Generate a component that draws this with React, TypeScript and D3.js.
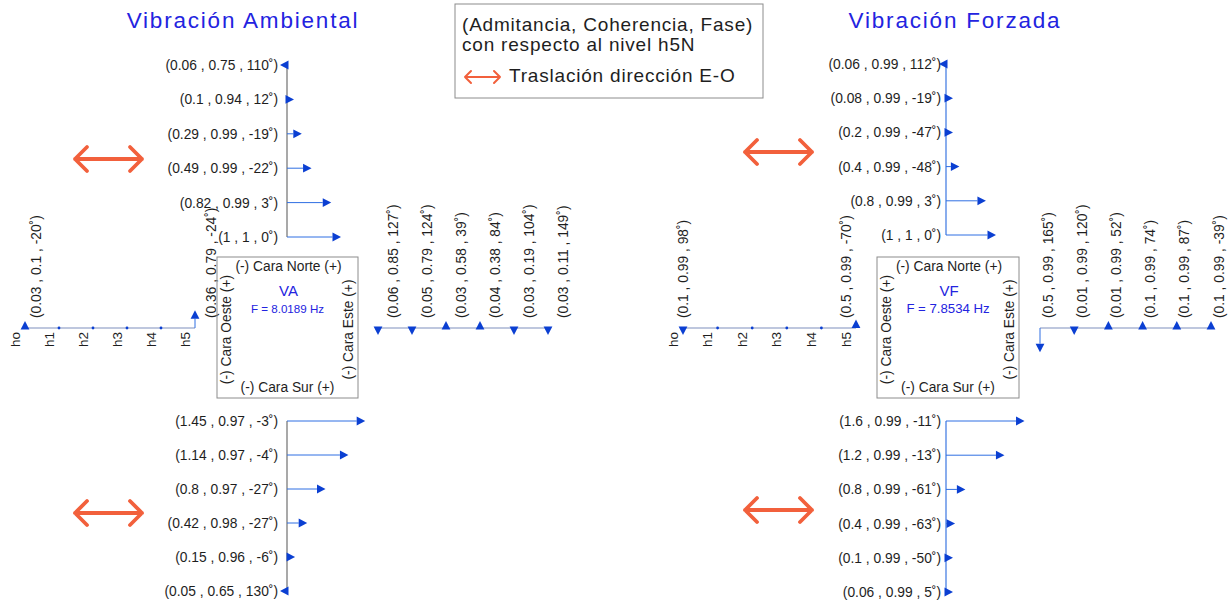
import React from "react";
import * as d3 from "d3";

// niveles, de la base (h0) al nivel de referencia (h5)
const niveles = ["h0", "h1", "h2", "h3", "h4", "h5"];
const nivelTicks = ["ho", "h1", "h2", "h3", "h4", "h5"];

// Vibración Ambiental (orden h0 .. h5)
const vaNorteAdm = [0.06, 0.1, 0.29, 0.49, 0.82, 1];
const vaNorteCoh = [0.75, 0.94, 0.99, 0.99, 0.99, 1];
const vaNorteFase = [110, 12, -19, -22, 3, 0];
const vaSurAdm = [0.05, 0.15, 0.42, 0.8, 1.14, 1.45];
const vaSurCoh = [0.65, 0.96, 0.98, 0.97, 0.97, 0.97];
const vaSurFase = [130, -6, -27, -27, -4, -3];
const vaEsteAdm = [0.03, 0.03, 0.04, 0.03, 0.05, 0.06];
const vaEsteCoh = [0.11, 0.19, 0.38, 0.58, 0.79, 0.85];
const vaEsteFase = [149, 104, 84, 39, 124, 127];
const vaOesteAdm = [0.03, null, null, null, null, 0.36];
const vaOesteCoh = [0.1, null, null, null, null, 0.79];
const vaOesteFase = [-20, null, null, null, null, -24];

// Vibración Forzada (orden h0 .. h5)
const vfNorteAdm = [0.06, 0.08, 0.2, 0.4, 0.8, 1];
const vfNorteCoh = [0.99, 0.99, 0.99, 0.99, 0.99, 1];
const vfNorteFase = [112, -19, -47, -48, 3, 0];
const vfSurAdm = [0.06, 0.1, 0.4, 0.8, 1.2, 1.6];
const vfSurCoh = [0.99, 0.99, 0.99, 0.99, 0.99, 0.99];
const vfSurFase = [5, -50, -63, -61, -13, -11];
const vfEsteAdm = [0.1, 0.1, 0.1, 0.01, 0.01, 0.5];
const vfEsteCoh = [0.99, 0.99, 0.99, 0.99, 0.99, 0.99];
const vfEsteFase = [-39, 87, 74, 52, 120, 165];
const vfOesteAdm = [0.1, null, null, null, null, 0.5];
const vfOesteCoh = [0.99, null, null, null, null, 0.99];
const vfOesteFase = [98, null, null, null, null, -70];

const font = "'Liberation Sans', Arial, Helvetica, sans-serif";
const lineBlue = "#2f6fe3";
const headBlue = "#0b3fd2";
const textBlue = "#2323e0";
const orange = "#f2603c";

const fmt = (a, c, f) => `(${a} , ${c} , ${f}˚)`;
const proj = (a, f) => a * Math.cos((f * Math.PI) / 180);

const panels = [
  {
    title: "Vibración Ambiental", titleX: 243, code: "VA", freq: "F = 8.0189 Hz", freqSize: 11.6,
    vx: 287, hy: 328, north: [65, 237], south: [591, 421], west: [25, 195], east: [548, 378],
    box: [217, 257, 358, 398], k: 54, labelEnd: 278, vLine: "#a9a9a9", vLineW: 2,
    westDx: [11, 16], eastDx: 15, orangeX: [75, 142], orangeY: [159, 513],
    norte: [vaNorteAdm, vaNorteCoh, vaNorteFase], sur: [vaSurAdm, vaSurCoh, vaSurFase],
    este: [vaEsteAdm, vaEsteCoh, vaEsteFase], oeste: [vaOesteAdm, vaOesteCoh, vaOesteFase],
  },
  {
    title: "Vibración Forzada", titleX: 955, code: "VF", freq: "F = 7.8534 Hz", freqSize: 13.2,
    vx: 946, hy: 328, north: [64, 235], south: [592, 421], west: [683, 856], east: [1211, 1040],
    box: [877, 257, 1019, 398], k: 50, labelEnd: 941, vLine: "#4a80e4", vLineW: 1.3,
    westDx: [0, -10], eastDx: 8, orangeX: [745, 812], orangeY: [152, 510],
    norte: [vfNorteAdm, vfNorteCoh, vfNorteFase], sur: [vfSurAdm, vfSurCoh, vfSurFase],
    este: [vfEsteAdm, vfEsteCoh, vfEsteFase], oeste: [vfOesteAdm, vfOesteCoh, vfOesteFase],
  },
];

const Flecha = ({ x, y, v, s, horiz }) => {
  const head = 8.5;
  const hw = 4.4;
  const dir = v >= 0 ? 1 : -1;
  const len = Math.max(s(Math.abs(v)), head - 1.5);
  if (horiz) {
    const tx = x + dir * len;
    const bx = tx - dir * head;
    return (
      <g>
        {len > head && <line x1={x} x2={bx} y1={y} y2={y} stroke={lineBlue} strokeWidth={1} />}
        <path d={`M${tx},${y}L${bx},${y - hw}L${bx},${y + hw}Z`} fill={headBlue} />
      </g>
    );
  }
  const ty = y - dir * len;
  const by = ty + dir * head;
  return (
    <g>
      {len > head && <line x1={x} x2={x} y1={y} y2={by} stroke={lineBlue} strokeWidth={1} />}
      <path d={`M${x},${ty}L${x - hw},${by}L${x + hw},${by}Z`} fill={headBlue} />
    </g>
  );
};

const Doble = ({ x0, x1, y, w, a }) => (
  <path
    d={`M${x0},${y}L${x1},${y}M${x0 + a},${y - a}L${x0},${y}L${x0 + a},${y + a}M${x1 - a},${y - a}L${x1},${y}L${x1 - a},${y + a}`}
    fill="none" stroke={orange} strokeWidth={w} strokeLinecap="round" strokeLinejoin="round"
  />
);

const Panel = ({ p }) => {
  const s = d3.scaleLinear().domain([0, 1]).range([0, p.k]);
  const yN = d3.scalePoint().domain(niveles).range(p.north);
  const yS = d3.scalePoint().domain(niveles).range(p.south);
  const xW = d3.scalePoint().domain(niveles).range(p.west);
  const xE = d3.scalePoint().domain(niveles).range(p.east);
  const [bx0, by0, bx1, by1] = p.box;
  const bcx = (bx0 + bx1) / 2;
  const tStyle = { fontFamily: font, fontSize: 13.8, fill: "#1e1e1e" };

  const cara = (scale, data) =>
    niveles.map((n, i) => {
      const [adm, coh, fase] = data.map((d) => d[i]);
      const y = scale(n);
      return (
        <g key={n}>
          <Flecha x={p.vx} y={y} v={proj(adm, fase)} s={s} horiz />
          <text x={p.labelEnd} y={y + 5} textAnchor="end" style={tStyle}>{fmt(adm, coh, fase)}</text>
        </g>
      );
    });

  return (
    <g>
      <text x={p.titleX} y={28} textAnchor="middle" fill={textBlue} fontFamily={font} fontSize={22.5} letterSpacing={1.8}>
        {p.title}
      </text>

      {/* Norte / Sur */}
      <line x1={p.vx} x2={p.vx} y1={p.north[0]} y2={p.north[1]} stroke={p.vLine} strokeWidth={p.vLineW} />
      <line x1={p.vx} x2={p.vx} y1={p.south[1]} y2={p.south[0]} stroke={p.vLine} strokeWidth={p.vLineW} />
      {cara(yN, p.norte)}
      {cara(yS, p.sur)}

      {/* Oeste */}
      <line x1={p.west[0]} x2={p.west[1]} y1={p.hy} y2={p.hy} stroke="#a9b5d3" strokeWidth={1.5} />
      {niveles.map((n, i) => {
        const x = xW(n);
        const adm = p.oeste[0][i];
        return (
          <g key={n}>
            <text transform={`translate(${x - 10},${p.hy + 4}) rotate(-90)`} textAnchor="end" dominantBaseline="central"
              style={{ ...tStyle, fontSize: 13.5 }}>{nivelTicks[i]}</text>
            {adm == null ? (
              <circle cx={x} cy={p.hy} r={1.4} fill={headBlue} />
            ) : (
              <g>
                <Flecha x={x} y={p.hy} v={proj(adm, p.oeste[2][i])} s={s} />
                <text transform={`translate(${x + p.westDx[i === 0 ? 0 : 1]},${p.hy - 10}) rotate(-90)`}
                  dominantBaseline="central" style={tStyle}>{fmt(adm, p.oeste[1][i], p.oeste[2][i])}</text>
              </g>
            )}
          </g>
        );
      })}

      {/* Este */}
      <line x1={p.east[1]} x2={p.east[0]} y1={p.hy} y2={p.hy} stroke="#a9b5d3" strokeWidth={1.5} />
      {niveles.map((n, i) => {
        const x = xE(n);
        const [adm, coh, fase] = p.este.map((d) => d[i]);
        return (
          <g key={n}>
            <Flecha x={x} y={p.hy} v={proj(adm, fase)} s={s} />
            <text transform={`translate(${x + p.eastDx},${p.hy - 10}) rotate(-90)`} dominantBaseline="central"
              style={tStyle}>{fmt(adm, coh, fase)}</text>
          </g>
        );
      })}

      {/* planta */}
      <rect x={bx0} y={by0} width={bx1 - bx0} height={by1 - by0} fill="none" stroke="#8c8c8c" strokeWidth={1} />
      <text x={bcx + 1} y={by0 + 14} textAnchor="middle" style={{ ...tStyle, fontSize: 13.8 }}>(-) Cara Norte (+)</text>
      <text x={bcx} y={by1 - 6} textAnchor="middle" style={{ ...tStyle, fontSize: 13.8 }}>(-) Cara Sur (+)</text>
      <text transform={`translate(${bx0 + 9},${(by0 + by1) / 2 + 2}) rotate(-90)`} textAnchor="middle" dominantBaseline="central"
        style={{ ...tStyle, fontSize: 13.8 }}>(-) Cara Oeste (+)</text>
      <text transform={`translate(${bx1 - 10},${(by0 + by1) / 2 + 2}) rotate(-90)`} textAnchor="middle" dominantBaseline="central"
        style={{ ...tStyle, fontSize: 13.8 }}>(-) Cara Este (+)</text>
      <text x={bcx + 1} y={296} textAnchor="middle" fill={textBlue} fontFamily={font} fontSize={15}>{p.code}</text>
      <text x={bcx} y={313} textAnchor="middle" fill={textBlue} fontFamily={font} fontSize={p.freqSize}>{p.freq}</text>

      {p.orangeY.map((y) => (
        <Doble key={y} x0={p.orangeX[0]} x1={p.orangeX[1]} y={y} w={3.8} a={12} />
      ))}
    </g>
  );
};

const App = () => (
  <svg width={1230} height={603} style={{ position: "absolute", left: 0, top: 0, background: "#fff" }}>
    {panels.map((p) => (
      <Panel key={p.code} p={p} />
    ))}
    <g>
      <rect x={455} y={4} width={308} height={94} fill="#fff" stroke="#8c8c8c" strokeWidth={1} />
      <text x={462} y={31} fontFamily={font} fontSize={19} letterSpacing={0.8} fill="#1e1e1e">(Admitancia, Coherencia, Fase)</text>
      <text x={462} y={51} fontFamily={font} fontSize={19} letterSpacing={0.8} fill="#1e1e1e">con respecto al nivel h5N</text>
      <Doble x0={465} x1={500} y={77} w={2} a={6} />
      <text x={509} y={82} fontFamily={font} fontSize={19} letterSpacing={0.8} fill="#1e1e1e">Traslación dirección E-O</text>
    </g>
  </svg>
);

export default App;
